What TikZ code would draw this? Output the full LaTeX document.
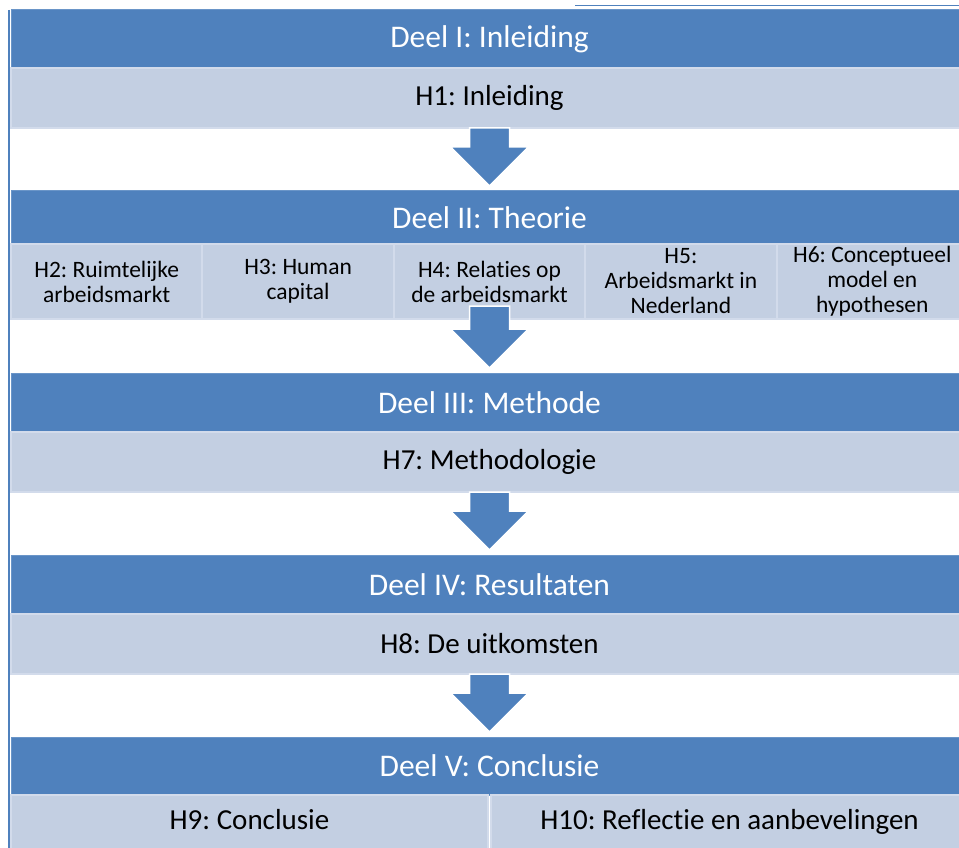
\documentclass[tikz,border=0pt]{standalone}
\usepackage{fontspec}
\setmainfont{Carlito}[Ligatures=NoCommon]
\usetikzlibrary{calc}
\frenchspacing

\definecolor{donkerblauw}{RGB}{79,129,189}
\definecolor{donkerrand}{RGB}{106,149,200}
\definecolor{lichtblauw}{RGB}{195,207,226}
\definecolor{lichtrand}{RGB}{210,219,235}

\tikzset{
  deel/.style={fill=donkerblauw, draw=donkerrand, line width=1pt, text=white,
    anchor=north west, inner sep=0pt, outer sep=0pt,
    minimum width=957pt, minimum height=58pt,
    font=\fontsize{31.5}{38}\selectfont},
  hoofdstuk/.style={fill=lichtblauw, draw=lichtrand, line width=2pt, text=black,
    anchor=north west, inner sep=0pt, outer sep=0pt,
    minimum width=957pt, minimum height=60pt,
    font=\fontsize{29}{35}\selectfont},
  klein/.style={hoofdstuk, minimum width=191.4pt, minimum height=75pt,
    align=center, font=\fontsize{23.5}{25}\selectfont},
  half/.style={hoofdstuk, minimum width=477pt, minimum height=54pt,
    text height=20pt, text depth=6pt},
  pijlstijl/.style={fill=donkerblauw, draw=white, line width=1.5pt},
}

% blokpijl van #2 (boven) naar #3 (onder), #1 = hoeveel hoger de steel begint
\newcommand{\pijl}[3][0]{%
  \draw[pijlstijl] ($(#2)+(-20,-#1)$) -- ($(#3)+(-20,-44)$) -- ($(#3)+(-39,-44)$)
    -- ($(#3)+(0,-5)$) -- ($(#3)+(39,-44)$) -- ($(#3)+(20,-44)$)
    -- ($(#2)+(20,-#1)$) -- cycle;}

\begin{document}
\begin{tikzpicture}[x=1pt,y=-1pt]
\useasboundingbox (0,0) rectangle (959,848);
\clip (0,0) rectangle (959,848);

%\draw[step=10,gray,very thin] (0,0) grid (959,848);

\draw[donkerblauw, line width=1pt] (575,6) -- (959,6);
\draw[donkerblauw, line width=2pt] (9,10) -- (9,848);

% Deel I
\node[deel] (deel1) at (11,10) {Deel I: Inleiding};
\node[hoofdstuk] (h1) at (11,68) {H1: Inleiding};

% Deel II
\node[deel, minimum height=53pt] (deel2) at (11,191) {Deel II: Theorie};
\node[klein] (h2) at (11,244) {H2: Ruimtelijke\\arbeidsmarkt};
\node[klein] (h3) at (202.4,244) {H3: Human\\capital};
\node[klein] (h4) at (393.8,244) {H4: Relaties op\\de arbeidsmarkt};
\node[klein] (h5) at (585.2,244) {H5:\\Arbeidsmarkt in\\Nederland};
\node[klein] (h6) at (776.6,244) {H6: Conceptueel\\model en\\hypothesen};

% Deel III
\node[deel, minimum height=59pt] (deel3) at (11,373) {Deel III: Methode};
\node[hoofdstuk] (h7) at (11,432) {H7: Methodologie};

% Deel IV
\node[deel, minimum height=59pt] (deel4) at (11,555) {Deel IV: Resultaten};
\node[hoofdstuk] (h8) at (11,614) {H8: De uitkomsten};

% Deel V
\node[deel] (deel5) at (11,737) {Deel V: Conclusie};
\node[half] (h9) at (11,795) {H9: Conclusie};
\node[half] (h10) at (491,795) {H10: Reflectie en aanbevelingen};

% pijlen
\pijl{h1.south}{deel2.north}
\pijl[13]{h4.south}{deel3.north}
\pijl{h7.south}{deel4.north}
\pijl{h8.south}{deel5.north}

\end{tikzpicture}
\end{document}
